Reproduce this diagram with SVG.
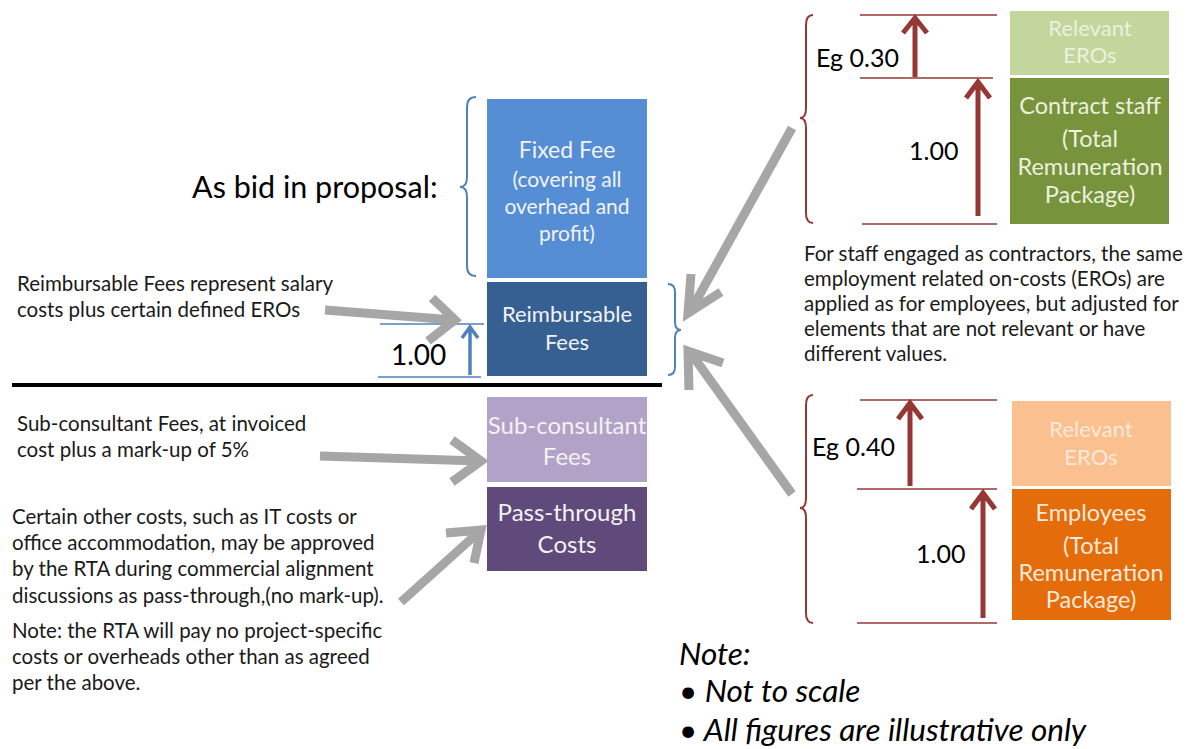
<svg xmlns="http://www.w3.org/2000/svg" width="1191" height="749" viewBox="0 0 1191 749">
<defs>
<style>
text{font-family:Lato,"Liberation Sans",sans-serif;}
.t{font-size:20.5px;fill:#1a1a1a;}
.bt{fill:#f2f2f2;text-anchor:middle;font-size:24px;}
.gt{fill:#ebf1de;text-anchor:middle;font-size:23.5px;}
.ot{fill:#fde9d9;text-anchor:middle;font-size:23.5px;}
.sm{font-size:22px;}
.num{font-size:25px;fill:#000;}
.ga{fill:none;stroke:#a6a6a6;stroke-width:9;}
.ra{fill:none;stroke:#953735;stroke-width:5;}
.rl{stroke:#953735;stroke-width:1.5;}
.rb{fill:none;stroke:#953735;stroke-width:2;}
.bb{fill:none;stroke:#4f81bd;stroke-width:2;}
.note{font-size:31.5px;font-style:italic;fill:#000;}
</style>
</defs>
<rect width="1191" height="749" fill="#fff"/>

<g id="as-bid">
<text x="192" y="198" style="font-size:30.5px;fill:#000">As bid in proposal:</text>
<path class="bb" d="M476,97 Q467,97 467,107 L467,177 Q467,187 460,187 Q467,187 467,197 L467,266 Q467,276 476,276"/>
</g>

<g id="fixed-fee">
<rect x="487" y="99" width="160" height="179" fill="#558ed5"/>
<text class="bt" x="567" y="158" style="font-size:23px">Fixed Fee</text>
<text class="bt" x="567" y="187" style="font-size:21px">(covering all</text>
<text class="bt" x="567" y="214" style="font-size:21px">overhead and</text>
<text class="bt" x="567" y="241" style="font-size:21px">profit)</text>
</g>

<g id="reimbursable-fees">
<rect x="487" y="282" width="160" height="94" fill="#366092"/>
<text class="bt sm" x="567" y="322">Reimbursable</text>
<text class="bt sm" x="567" y="350">Fees</text>
<path class="bb" d="M668,284 Q675,284 675,292 L675,322 Q675,330 681,330 Q675,330 675,338 L675,367 Q675,375 668,375"/>
</g>

<g id="reimb-scale">
<line x1="380" y1="324" x2="484" y2="324" stroke="#4f81bd" stroke-width="1.5"/>
<line x1="378" y1="377" x2="481" y2="377" stroke="#4f81bd" stroke-width="1.5"/>
<path d="M470,375 L470,328 M462,338 L470,327 L478,338" fill="none" stroke="#4f81bd" stroke-width="3.5"/>
<text class="num" x="391" y="365" style="font-size:28px">1.00</text>
</g>

<line id="divider" x1="12" y1="385" x2="662" y2="385" stroke="#000" stroke-width="4"/>

<g id="sub-consultant">
<rect x="487" y="397" width="160" height="85" fill="#b3a2c7"/>
<text class="bt" x="567" y="434">Sub-consultant</text>
<text class="bt" x="567" y="465">Fees</text>
</g>

<g id="pass-through">
<rect x="487" y="487" width="160" height="84" fill="#604a7b"/>
<text class="bt" x="567" y="521">Pass-through</text>
<text class="bt" x="567" y="553">Costs</text>
</g>

<g id="left-texts">
<text class="t" x="17" y="291">Reimbursable Fees represent salary</text>
<text class="t" x="17" y="317">costs plus certain defined EROs</text>
<text class="t" x="17" y="431">Sub-consultant Fees, at invoiced</text>
<text class="t" x="17" y="457">cost plus a mark-up of 5%</text>
<text class="t" x="12" y="524">Certain other costs, such as IT costs or</text>
<text class="t" x="12" y="550">office accommodation, may be approved</text>
<text class="t" x="12" y="576">by the RTA during commercial alignment</text>
<text class="t" x="12" y="603">discussions as pass-through,(no mark-up).</text>
<text class="t" x="12" y="638">Note: the RTA will pay no project-specific</text>
<text class="t" x="12" y="664">costs or overheads other than as agreed</text>
<text class="t" x="12" y="690">per the above.</text>
</g>

<g id="contract-staff">
<path class="rb" d="M813,15 Q806,15 806,25 L806,108 Q806,118 800,118 Q806,118 806,128 L806,213 Q806,223 813,223"/>
<line class="rl" x1="860" y1="15" x2="997" y2="15"/>
<line class="rl" x1="860" y1="78" x2="993" y2="78"/>
<line class="rl" x1="862" y1="224" x2="997" y2="224"/>
<path class="ra" d="M915,77 L915,18 M903,33 L915,18 L927,33"/>
<path class="ra" d="M978,216 L978,82 M966,98 L978,82 L990,98"/>
<text class="num" x="816" y="67">Eg 0.30</text>
<text class="num" x="909" y="160">1.00</text>
<rect x="1010" y="11" width="159" height="64" fill="#c3d69b"/>
<text class="gt sm" x="1090" y="36">Relevant</text>
<text class="gt sm" x="1090" y="63">EROs</text>
<rect x="1010" y="78" width="159" height="146" fill="#77933c"/>
<text class="gt" x="1090" y="114">Contract staff</text>
<text class="gt" x="1090" y="147">(Total</text>
<text class="gt" x="1090" y="175">Remuneration</text>
<text class="gt" x="1090" y="203">Package)</text>
</g>

<g id="contractor-note">
<text class="t" x="804" y="261">For staff engaged as contractors, the same</text>
<text class="t" x="804" y="286">employment related on-costs (EROs) are</text>
<text class="t" x="804" y="311">applied as for employees, but adjusted for</text>
<text class="t" x="804" y="336">elements that are not relevant or have</text>
<text class="t" x="804" y="361">different values.</text>
</g>

<g id="employees">
<path class="rb" d="M813,395 Q806,395 806,405 L806,498 Q806,508 800,508 Q806,508 806,518 L806,613 Q806,623 813,623"/>
<line class="rl" x1="860" y1="400" x2="997" y2="400"/>
<line class="rl" x1="857" y1="489" x2="997" y2="489"/>
<line class="rl" x1="857" y1="623" x2="997" y2="623"/>
<path class="ra" d="M910,486 L910,403 M898,419 L910,403 L922,419"/>
<path class="ra" d="M983,618 L983,493 M971,509 L983,493 L995,509"/>
<text class="num" x="812" y="456">Eg 0.40</text>
<text class="num" x="916" y="563">1.00</text>
<rect x="1012" y="401" width="159" height="85" fill="#fac090"/>
<text class="ot sm" x="1091" y="437">Relevant</text>
<text class="ot sm" x="1091" y="465">EROs</text>
<rect x="1012" y="489" width="159" height="131" fill="#e46c0a"/>
<text class="ot" x="1091" y="521">Employees</text>
<text class="ot" x="1091" y="554">(Total</text>
<text class="ot" x="1091" y="581">Remuneration</text>
<text class="ot" x="1091" y="608">Package)</text>
</g>

<g id="connectors">
<path class="ga" d="M325,310 L454,320 M432,298 L455,320 L428,341"/>
<path class="ga" d="M320,456 L480,461 M452,440 L481,461 L452,482"/>
<path class="ga" d="M401,602 L480,531 M446,533 L481,530 L474,563"/>
<path class="ga" d="M792,128 L690,312 M691,274 L688,313 L721,292"/>
<path class="ga" d="M792,494 L690,352 M689,390 L688,351 L723,363"/>
</g>

<g id="note">
<text class="note" x="679" y="665">Note:</text>
<text class="note" x="679" y="702">• Not to scale</text>
<text class="note" x="679" y="741">• All figures are illustrative only</text>
</g>
</svg>
